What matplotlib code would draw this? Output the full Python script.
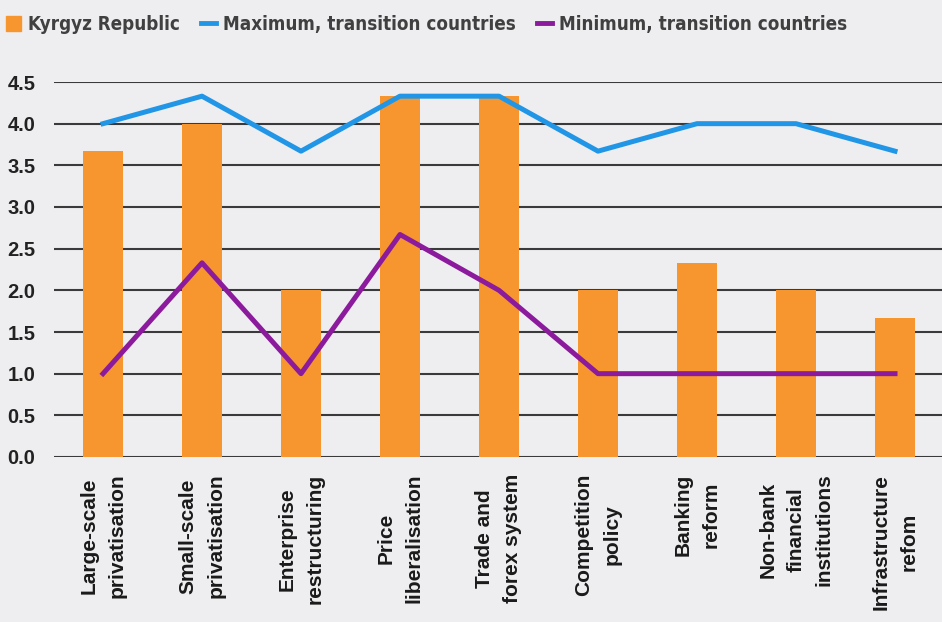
import matplotlib.pyplot as plt
from matplotlib.patches import Patch
from matplotlib.lines import Line2D
from matplotlib import font_manager

categories = ['Large-scale\nprivatisation', 'Small-scale\nprivatisation', 'Enterprise\nrestructuring',
              'Price\nliberalisation', 'Trade and\nforex system', 'Competition\npolicy',
              'Banking\nreform', 'Non-bank\nfinancial\ninstitutions', 'Infrastructure\nrefom']
kyrgyz = [3.67, 4.0, 2.0, 4.33, 4.33, 2.0, 2.33, 2.0, 1.67]
max_transition = [4.0, 4.33, 3.67, 4.33, 4.33, 3.67, 4.0, 4.0, 3.67]
min_transition = [1.0, 2.33, 1.0, 2.67, 2.0, 1.0, 1.0, 1.0, 1.0]
yticks = [0.0, 0.5, 1.0, 1.5, 2.0, 2.5, 3.0, 3.5, 4.0, 4.5]

BG = '#eeeef0'
ORANGE = '#f7962f'
BLUE = '#2196e6'
PURPLE = '#8c1a9c'

# a condensed bold face for the legend, if one is installed
cond = None
for f in font_manager.fontManager.ttflist:
    if 'Condensed' in f.fname and 'Bold' in f.fname and 'Oblique' not in f.fname and 'Italic' not in f.fname:
        cond = f.fname
        break
if cond:
    legend_prop = font_manager.FontProperties(fname=cond, size=13.5)
else:
    legend_prop = font_manager.FontProperties(family='Liberation Sans', weight='bold', size=13)

fig = plt.figure(figsize=(9.42, 6.22), dpi=100, facecolor=BG)
ax = fig.add_axes([53.5 / 942, 1 - 457 / 622, 891 / 942, 375 / 622])
ax.set_facecolor(BG)

x = list(range(len(categories)))
ax.bar(x, kyrgyz, width=0.41, color=ORANGE, zorder=2)
ax.plot(x, max_transition, color=BLUE, lw=3.6, zorder=3)
ax.plot(x, min_transition, color=PURPLE, lw=3.6, zorder=3)

ax.set_xlim(-0.5, 8.5)
ax.set_ylim(0, 4.5)
ax.set_yticks(yticks)
ax.set_yticklabels(['%.1f' % v for v in yticks], fontsize=14.5, fontweight='bold',
                   color='#222222', family='Liberation Sans')
ax.set_xticks(x)
ax.set_xticklabels(categories, rotation=90, ha='center', va='top', multialignment='center',
                   fontsize=15, fontweight='bold', color='#1a1a1a', family='Liberation Sans',
                   linespacing=1.6)
ax.tick_params(axis='both', length=0)
ax.tick_params(axis='y', pad=13)
ax.tick_params(axis='x', pad=12)
ax.grid(axis='y', color='#3a3a3a', lw=1.5, zorder=1)
ax.set_axisbelow(True)
for s in ax.spines.values():
    s.set_visible(False)

handles = [Patch(color=ORANGE), Line2D([], [], color=BLUE, lw=3.5),
           Line2D([], [], color=PURPLE, lw=3.5)]
labels = ['Kyrgyz Republic', 'Maximum, transition countries', 'Minimum, transition countries']
fig.legend(handles, labels, loc='upper left', bbox_to_anchor=(0.0, 0.985), ncol=3, frameon=False,
           handlelength=0.8, handleheight=0.85, handletextpad=0.4, columnspacing=1.1,
           borderaxespad=0.1, borderpad=0.2, prop=legend_prop, labelcolor='#404040')

fig.savefig('out.png', dpi=100, facecolor=BG)
